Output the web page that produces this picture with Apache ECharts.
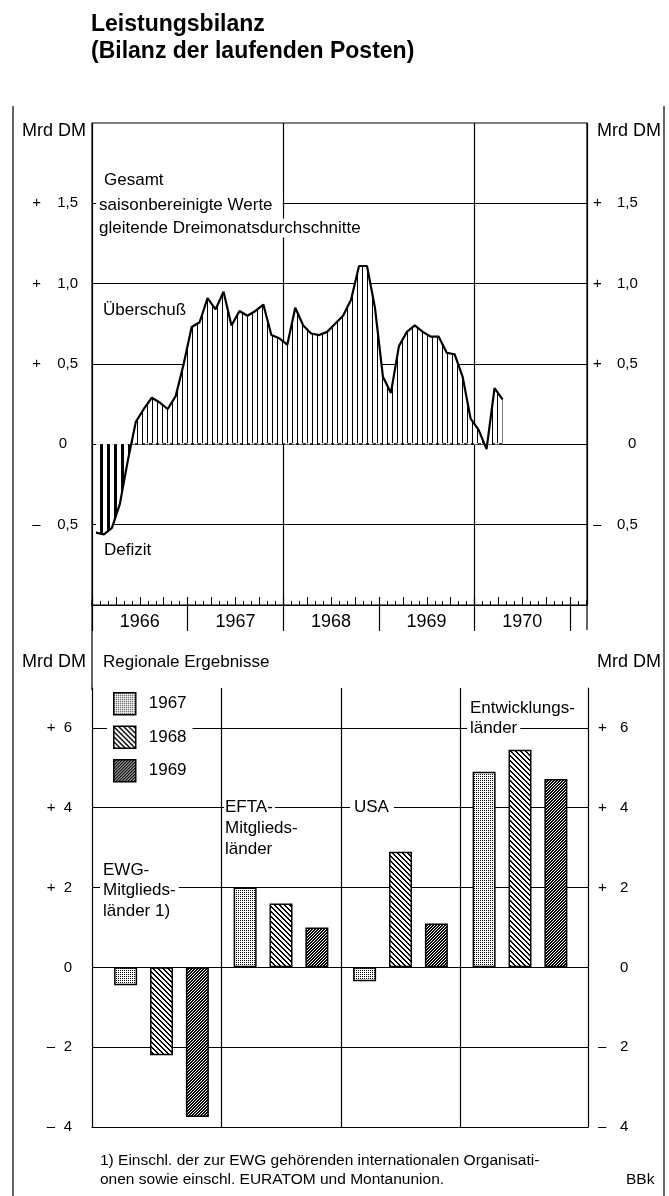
<!DOCTYPE html>
<html><head><meta charset="utf-8">
<script src="https://cdn.jsdelivr.net/npm/echarts@6/dist/echarts.min.js"></script>
<style>html,body{margin:0;padding:0;background:#fff}#c{width:669px;height:1196px}</style>
</head><body><div id="c"></div><script>
// ---- Data ----
// Leistungsbilanz gesamt, saisonbereinigt, gleitende Dreimonatsdurchschnitte (Mrd DM), monthly from Jan 1966
const totalBalance = [
  -0.55, -0.56, -0.52, -0.37, -0.10, 0.14, 0.22, 0.29, 0.26, 0.22, 0.30, 0.50,
   0.73,  0.76,  0.91,  0.84,  0.95, 0.74, 0.83, 0.80, 0.83, 0.87, 0.68, 0.66,
   0.62,  0.85,  0.74,  0.69,  0.68, 0.70, 0.75, 0.80, 0.90, 1.11, 1.11, 0.85,
   0.42,  0.32,  0.61,  0.70,  0.74, 0.70, 0.67, 0.67, 0.57, 0.56, 0.42, 0.16,
   0.09, -0.03,  0.35,  0.28
];
const yearLabels = ['1966', '1967', '1968', '1969', '1970'];
const regions = ['EWG-Mitgliedsländer 1)', 'EFTA-Mitgliedsländer', 'USA', 'Entwicklungsländer'];
const barYears = ['1967', '1968', '1969'];
const values1967 = [-0.45, 2.0, -0.35, 4.9];
const values1968 = [-2.2, 1.6, 2.9, 5.45];
const values1969 = [-3.75, 1.0, 1.1, 4.72];

const FONT = '"Liberation Sans", Arial, sans-serif';

function mk(w, h, draw) {
  const c = document.createElement('canvas');
  c.width = w; c.height = h;
  const g = c.getContext('2d');
  g.fillStyle = '#fff'; g.fillRect(0, 0, w, h);
  g.fillStyle = '#000';
  draw(g, w, h);
  return { image: c, repeat: 'repeat' };
}
const patThin = mk(5, 5, g => g.fillRect(2, 0, 1, 5));
const patThick = mk(7, 7, g => g.fillRect(2, 0, 3, 7));
const pat67 = mk(2, 2, g => g.fillRect(0, 0, 1, 1));
const pat68 = mk(5, 5, g => { for (let i = 0; i < 5; i++) { g.fillRect(i, i, 1, 1); g.fillRect(i, (i + 1) % 5, 1, 1); } });
const pat69 = mk(3, 3, (g) => { g.fillRect(0, 0, 3, 3); g.fillStyle = '#fff'; g.fillRect(0, 0, 1, 1); g.fillRect(1, 2, 1, 1); g.fillRect(2, 1, 1, 1); });

const xy = totalBalance.map((v, i) => [i + 0.5, v]);
const XMAX = 62.1;
const G0 = { left: 92, top: 123, width: 495, height: 482 };
const zeroY = G0.top + G0.height * 2 / 3;

function fmtTop(v) {
  if (v < -0.5 - 1e-9 || v > 1.5 + 1e-9) return '';
  if (Math.abs(v) < 1e-9) return '{z|0}';
  return '{s|' + (v > 0 ? '+' : '–') + '}{d|' + Math.abs(v).toFixed(1).replace('.', ',') + '}';
}
function fmtBottom(v) {
  if (v > 6.5) return '';
  if (Math.abs(v) < 1e-9) return '{z|0}';
  return '{s|' + (v > 0 ? '+' : '–') + '}{d|' + Math.abs(v) + '}';
}
const lblBase = { color: '#000', fontSize: 15, fontFamily: FONT };

function txt(text, x, y, opts) {
  return {
    type: 'text', z: 100,
    style: Object.assign({ text: text, x: x, y: y, fill: '#000', font: '17px ' + FONT, verticalAlign: 'middle', align: 'left' }, opts || {})
  };
}
function mtxt(text, x, y, opts) {
  return txt(text, x, y, Object.assign({ backgroundColor: '#fff', padding: [1, 3, 1, 3] }, opts || {}));
}
function vline(x, y1, y2) {
  return { type: 'line', z: 100, shape: { x1: x, y1: y1, x2: x, y2: y2 }, style: { stroke: '#000', lineWidth: 1.2 } };
}
const splitStyle = { color: '#000', width: 1.2 };

const chart = echarts.init(document.getElementById('c'), null, { renderer: 'canvas' });
chart.setOption({
  animation: false,
  backgroundColor: '#fff',
  title: {
    text: 'Leistungsbilanz\n(Bilanz der laufenden Posten)',
    left: 86, top: 6,
    textStyle: { fontSize: 23, fontWeight: 'bold', fontFamily: FONT, color: '#000', lineHeight: 27 }
  },
  legend: {
    data: barYears, orient: 'vertical', left: 107, top: 688,
    itemWidth: 22, itemHeight: 22, itemGap: 10,
    backgroundColor: '#fff', padding: [4, 6, 4, 6],
    textStyle: { fontSize: 17, fontFamily: FONT, color: '#000', padding: [0, 0, 0, 8] },
    itemStyle: { borderColor: '#000', borderWidth: 1.5 },
    icon: 'rect', z: 50
  },
  grid: [
    Object.assign({ show: true, borderColor: '#000', borderWidth: 1.2, backgroundColor: 'transparent' }, G0),
    { left: 92, top: 597, width: 478, height: 34 },
    { left: 92, top: 688, width: 496, height: 439 },
    { left: 92, top: zeroY, width: 495, height: G0.top + G0.height - zeroY },
    { left: 101.75, top: 688, width: 478, height: 439 }
  ],
  xAxis: [
    { gridIndex: 0, type: 'value', min: 0, max: XMAX, interval: 3,
      axisLine: { show: true, onZero: false, lineStyle: { color: '#000', width: 1.2 } },
      axisTick: { show: true, inside: true, length: 8, lineStyle: { color: '#000', width: 1 } },
      minorTick: { show: true, splitNumber: 3, length: 4, lineStyle: { color: '#000', width: 1 } },
      axisLabel: { show: false }, splitLine: { show: false } },
    { gridIndex: 0, type: 'value', min: 0, max: XMAX, interval: 24, position: 'top',
      axisLine: { show: false }, axisTick: { show: false }, axisLabel: { show: false },
      splitLine: { show: true, lineStyle: splitStyle } },
    { gridIndex: 1, type: 'category', data: yearLabels, position: 'bottom', boundaryGap: true,
      axisLine: { show: false }, axisTick: { show: false },
      axisLabel: { inside: true, margin: 0, fontSize: 18, color: '#000', fontFamily: FONT, interval: 0 },
      splitLine: { show: true, interval: 0, lineStyle: splitStyle } },
    { gridIndex: 2, type: 'value', min: 0, max: 1,
      axisLine: { show: true, onZero: false, lineStyle: { color: '#000', width: 1.2 } },
      axisTick: { show: false }, axisLabel: { show: false }, splitLine: { show: false } },
    { gridIndex: 3, type: 'value', min: 0, max: XMAX, show: false },
    { gridIndex: 4, type: 'category', data: regions,
      axisLine: { show: false }, axisTick: { show: false }, axisLabel: { show: false },
      splitLine: { show: true, interval: 0, showMinLine: false, showMaxLine: false, lineStyle: splitStyle } }
  ],
  yAxis: [
    { gridIndex: 0, type: 'value', min: -1, max: 2, interval: 0.5,
      axisLine: { show: false }, axisTick: { show: false },
      axisLabel: Object.assign({ formatter: fmtTop, margin: 14,
        rich: { s: { width: 25, align: 'left' }, d: {}, z: { padding: [0, 11, 0, 0] } } }, lblBase),
      splitLine: { show: true, showMinLine: false, showMaxLine: false, lineStyle: splitStyle } },
    { gridIndex: 0, type: 'value', min: -1, max: 2, interval: 0.5, position: 'right',
      axisLine: { show: false }, axisTick: { show: false },
      axisLabel: Object.assign({ formatter: fmtTop, margin: 6,
        rich: { s: { width: 24, align: 'left' }, d: {}, z: { padding: [0, 0, 0, 35] } } }, lblBase),
      splitLine: { show: false } },
    { gridIndex: 1, type: 'value', show: false },
    { gridIndex: 2, type: 'value', min: -4, max: 7, interval: 2,
      axisLine: { show: true, lineStyle: { color: '#000', width: 1.2 } }, axisTick: { show: false },
      axisLabel: Object.assign({ formatter: fmtBottom, margin: 20,
        rich: { s: { width: 17, align: 'left' }, d: {}, z: {} } }, lblBase),
      splitLine: { show: true, showMaxLine: false, lineStyle: splitStyle } },
    { gridIndex: 2, type: 'value', min: -4, max: 7, interval: 2, position: 'right',
      axisLine: { show: true, lineStyle: { color: '#000', width: 1.2 } }, axisTick: { show: false },
      axisLabel: Object.assign({ formatter: fmtBottom, margin: 10,
        rich: { s: { width: 22, align: 'left' }, d: {}, z: { padding: [0, 0, 0, 22] } } }, lblBase),
      splitLine: { show: false } },
    { gridIndex: 3, type: 'value', min: -1, max: 0, show: false },
    { gridIndex: 4, type: 'value', min: -4, max: 7, show: false }
  ],
  series: [
    { name: 'fill', type: 'line', xAxisIndex: 0, yAxisIndex: 0, data: xy, symbol: 'none', silent: true,
      lineStyle: { opacity: 0 }, areaStyle: { color: patThin, opacity: 1 }, z: 2 },
    { name: 'fillNeg', type: 'line', xAxisIndex: 4, yAxisIndex: 5, data: xy, symbol: 'none', silent: true, clip: true,
      lineStyle: { opacity: 0 }, areaStyle: { color: patThick, opacity: 1, origin: 'end' }, z: 3 },
    { name: 'Gesamt', type: 'line', xAxisIndex: 0, yAxisIndex: 0, data: xy, symbol: 'none',
      lineStyle: { color: '#000', width: 2.2 }, z: 4 },
    { name: barYears[0], type: 'bar', xAxisIndex: 5, yAxisIndex: 6, data: values1967, barWidth: 23, barGap: '56%',
      itemStyle: { color: pat67, borderColor: '#000', borderWidth: 1.5 } },
    { name: barYears[1], type: 'bar', xAxisIndex: 5, yAxisIndex: 6, data: values1968, barWidth: 23, barGap: '56%',
      itemStyle: { color: pat68, borderColor: '#000', borderWidth: 1.5 } },
    { name: barYears[2], type: 'bar', xAxisIndex: 5, yAxisIndex: 6, data: values1969, barWidth: 23, barGap: '56%',
      itemStyle: { color: pat69, borderColor: '#000', borderWidth: 1.5 } }
  ],
  graphic: { elements: [
    vline(13, 106, 1196), vline(664, 106, 1196), vline(92, 600, 690), vline(587, 600, 630),
    txt('Mrd DM', 86, 131, { align: 'right', font: '18px ' + FONT }),
    txt('Mrd DM', 661, 131, { align: 'right', font: '18px ' + FONT }),
    txt('Gesamt', 104, 180),
    mtxt('saisonbereinigte Werte', 96, 205, { padding: [1, 10, 6, 3] }),
    mtxt('gleitende Dreimonatsdurchschnitte', 96, 228),
    txt('Überschuß', 103, 310),
    txt('Defizit', 104, 550),
    txt('Mrd DM', 86, 662, { align: 'right', font: '18px ' + FONT }),
    txt('Mrd DM', 661, 662, { align: 'right', font: '18px ' + FONT }),
    txt('Regionale Ergebnisse', 103, 662),
    mtxt('EWG-', 100, 870),
    mtxt('Mitglieds-', 100, 890),
    mtxt('länder 1)', 100, 911),
    mtxt('EFTA-', 224, 807, { padding: [1, 2, 1, 1] }),
    mtxt('Mitglieds-', 224, 828, { padding: [1, 3, 1, 1] }),
    mtxt('länder', 224, 849, { padding: [1, 3, 1, 1] }),
    mtxt('USA', 350, 807, { padding: [1, 5, 1, 4] }),
    mtxt('Entwicklungs-', 467, 708),
    mtxt('länder', 467, 728),
    txt('1) Einschl. der zur EWG gehörenden internationalen Organisati-', 100, 1161, { font: '15.5px ' + FONT }),
    txt('onen sowie einschl. EURATOM und Montanunion.', 100, 1180, { font: '15.5px ' + FONT }),
    txt('BBk', 626, 1180, { font: '15.5px ' + FONT })
  ] }
});
</script></body></html>
